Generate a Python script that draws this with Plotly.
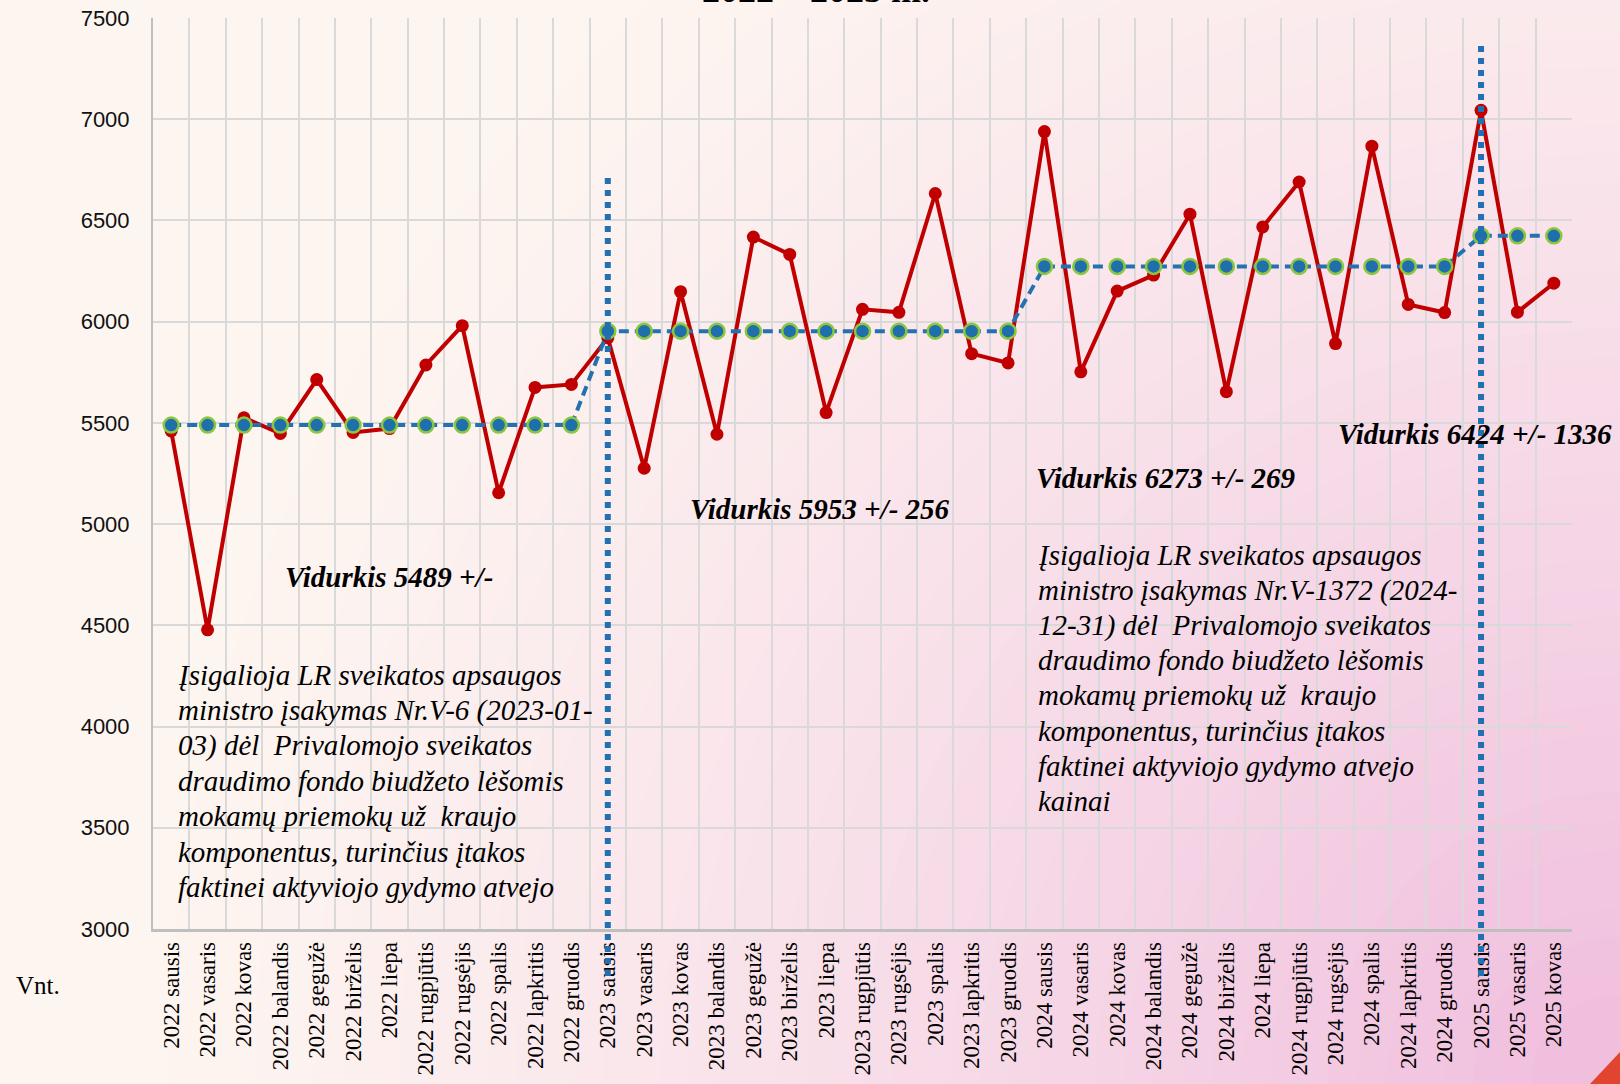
import plotly.graph_objects as go

# ---------------- data ----------------
categories = [
    "2022 sausis", "2022 vasaris", "2022 kovas", "2022 balandis", "2022 gegužė", "2022 birželis",
    "2022 liepa", "2022 rugpjūtis", "2022 rugsėjis", "2022 spalis", "2022 lapkritis", "2022 gruodis",
    "2023 sausis", "2023 vasaris", "2023 kovas", "2023 balandis", "2023 gegužė", "2023 birželis",
    "2023 liepa", "2023 rugpjūtis", "2023 rugsėjis", "2023 spalis", "2023 lapkritis", "2023 gruodis",
    "2024 sausis", "2024 vasaris", "2024 kovas", "2024 balandis", "2024 gegužė", "2024 birželis",
    "2024 liepa", "2024 rugpjūtis", "2024 rugsėjis", "2024 spalis", "2024 lapkritis", "2024 gruodis",
    "2025 sausis", "2025 vasaris", "2025 kovas",
]

monthly_values = [
    5460, 4478, 5525, 5448, 5714, 5453, 5472, 5786, 5980, 5155, 5675, 5690,
    5920, 5276, 6148, 5444, 6418, 6332, 5551, 6061, 6046, 6633, 5842, 5796,
    6939, 5752, 6151, 6230, 6531, 5654, 6468, 6690, 5892, 6867, 6085, 6045,
    7044, 6047, 6190,
]

average_values = [
    5489, 5489, 5489, 5489, 5489, 5489, 5489, 5489, 5489, 5489, 5489, 5489,
    5953, 5953, 5953, 5953, 5953, 5953, 5953, 5953, 5953, 5953, 5953, 5953,
    6273, 6273, 6273, 6273, 6273, 6273, 6273, 6273, 6273, 6273, 6273, 6273,
    6424, 6424, 6424,
]

marker_months = ["2023 sausis", "2025 sausis"]

avg_labels = [
    "Vidurkis 5489 +/-",
    "Vidurkis 5953 +/- 256",
    "Vidurkis 6273 +/- 269",
    "Vidurkis 6424 +/- 1336",
]

note_2023 = [
    "Įsigalioja LR sveikatos apsaugos",
    "ministro įsakymas Nr.V-6 (2023-01-",
    "03) dėl  Privalomojo sveikatos",
    "draudimo fondo biudžeto lėšomis",
    "mokamų priemokų už  kraujo",
    "komponentus, turinčius įtakos",
    "faktinei aktyviojo gydymo atvejo",
]

note_2025 = [
    "Įsigalioja LR sveikatos apsaugos",
    "ministro įsakymas Nr.V-1372 (2024-",
    "12-31) dėl  Privalomojo sveikatos",
    "draudimo fondo biudžeto lėšomis",
    "mokamų priemokų už  kraujo",
    "komponentus, turinčius įtakos",
    "faktinei aktyviojo gydymo atvejo",
    "kainai",
]

title_text = "2022 – 2025 m."
unit_text = "Vnt."

# ---------------- layout geometry ----------------
W_PX, H_PX = 1620, 1084
L, R, T, B = 153, 1572, 18, 929
PW, PH = R - L, B - T


def px(x):
    return (x - L) / PW


def py(y):
    return (B - y) / PH


# ---------------- background gradient (radial from bottom-right) ----------------
c0 = (253, 245, 240)
c1 = (240, 190, 222)
shapes = []
RMAX = 1450
N = 50
for k in range(N):
    r = RMAX * (1 - k / N) + 60
    f = max(0.0, 1 - (r - 60) / RMAX) ** 1.3
    col = "rgb(%d,%d,%d)" % tuple(round(a + (b - a) * f) for a, b in zip(c0, c1))
    shapes.append(dict(
        type="circle", xref="paper", yref="paper", layer="below",
        x0=px(W_PX - r), x1=px(W_PX + r), y0=py(H_PX + r), y1=py(H_PX - r),
        fillcolor=col, line=dict(width=0),
    ))

# small red corner mark (bottom right of the original slide)
shapes.append(dict(
    type="path", xref="paper", yref="paper", layer="above",
    path="M %f %f L %f %f L %f %f Z" % (px(1590), py(1084), px(1620), py(1052), px(1620), py(1084)),
    fillcolor="#e2452f", line=dict(width=0),
))

# vertical dotted marker lines
for m, top in zip(marker_months, [175, 40]):
    shapes.append(dict(
        type="line", xref="x", yref="paper", x0=m, x1=m,
        y0=py(976), y1=py(top), layer="above",
        line=dict(color="#2070b2", width=6, dash="dot"),
    ))

fig = go.Figure()
fig.add_trace(go.Scatter(
    x=categories, y=monthly_values, mode="lines+markers",
    line=dict(color="#c00000", width=4),
    marker=dict(size=13, color="#c00000"),
    name="Vnt.",
))
fig.add_trace(go.Scatter(
    x=categories, y=average_values, mode="lines+markers",
    line=dict(color="#2471b0", width=4, dash="10px,6px"),
    marker=dict(size=15, color="#1f6fad", line=dict(color="#8cc63f", width=2.5)),
    name="Vidurkis",
))

annotations = []
serif = "Liberation Serif"
# title (partly off the top of the page, as in the original)
annotations.append(dict(
    text="<b>%s</b>" % title_text, xref="paper", yref="paper",
    x=px(816), y=py(12), xanchor="center", yanchor="bottom", showarrow=False,
    font=dict(family=serif, size=36, color="#000000"),
))
# averages
for text, (cx, cy) in zip(avg_labels, [(389, 577), (820, 509), (1165, 478), (1475, 434)]):
    annotations.append(dict(
        text="<b><i>%s</i></b>" % text, xref="paper", yref="paper",
        x=px(cx), y=py(cy), xanchor="center", yanchor="middle", showarrow=False,
        font=dict(family=serif, size=29, color="#000000"),
    ))
# notes
for lines, (lx, ly0, step) in [(note_2023, (176, 675, 35.3)), (note_2025, (1036, 555, 35.1))]:
    for i, line in enumerate(lines):
        annotations.append(dict(
            text="<i>%s</i>" % line, xref="paper", yref="paper",
            x=px(lx), y=py(ly0 + i * step), xanchor="left", yanchor="middle",
            showarrow=False, font=dict(family=serif, size=29, color="#000000"),
        ))
annotations.append(dict(
    text=unit_text, xref="paper", yref="paper", x=px(14), y=py(985),
    xanchor="left", yanchor="middle", showarrow=False,
    font=dict(family=serif, size=25, color="#000000"),
))

fig.update_layout(
    width=W_PX, height=H_PX, autosize=False,
    margin=dict(l=L, r=W_PX - R, t=T, b=H_PX - B, pad=0, autoexpand=False),
    paper_bgcolor="rgb(253,245,240)", plot_bgcolor="rgba(0,0,0,0)",
    showlegend=False, shapes=shapes, annotations=annotations,
    xaxis=dict(
        type="category", categoryorder="array", categoryarray=categories,
        range=[-0.5, len(categories) - 0.5], tickson="boundaries",
        showgrid=True, gridcolor="#d9d9d9", gridwidth=1.5,
        showline=True, linecolor="#bfbfbf", linewidth=2.5,
        ticks="", tickangle=-90, ticklabelstandoff=1, automargin=False,
        tickfont=dict(family=serif, size=23, color="#000000"),
        zeroline=False,
    ),
    yaxis=dict(
        range=[3000, 7500], dtick=500, tick0=3000,
        showgrid=True, gridcolor="#d9d9d9", gridwidth=1.5,
        showline=True, linecolor="#bfbfbf", linewidth=2,
        ticks="", ticklabelstandoff=17, automargin=False,
        tickfont=dict(family="Liberation Sans", size=22, color="#111111"),
        zeroline=False,
    ),
)

fig.write_html(
    "out.html",
    config={"displayModeBar": False},
    post_script="document.body.style.margin='0';document.body.style.overflow='hidden';",
)
